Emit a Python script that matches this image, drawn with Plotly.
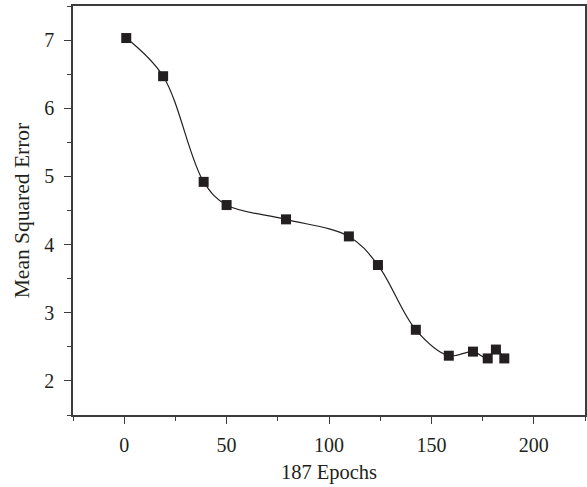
import plotly.graph_objects as go

epochs = [1, 19, 38.8, 50, 79, 109.7, 123.9, 142.4, 158.5, 170.3, 177.5, 181.5, 185.6]
mse = [7.03, 6.47, 4.92, 4.58, 4.37, 4.12, 3.70, 2.75, 2.37, 2.43, 2.33, 2.46, 2.33]

x_ticks = [0, 50, 100, 150, 200]
y_ticks = [2, 3, 4, 5, 6, 7]

font_family = "Liberation Serif, Times New Roman, serif"
axis_color = "#3c3c3c"
mark_color = "#231f20"

fig = go.Figure()
fig.add_trace(go.Scatter(
    x=epochs, y=mse, mode="lines",
    line=dict(color=mark_color, width=1.2, shape="spline", smoothing=1.0),
    showlegend=False, hoverinfo="skip",
))
fig.add_trace(go.Scatter(
    x=epochs, y=mse, mode="markers",
    marker=dict(symbol="square", size=10, color=mark_color, line=dict(width=0)),
    showlegend=False,
))

fig.update_layout(
    width=587, height=487,
    margin=dict(l=73, r=2, t=6, b=72, autoexpand=False),
    paper_bgcolor="white", plot_bgcolor="white",
    font=dict(family=font_family, size=20, color="#231f20"),
)
fig.update_xaxes(
    range=[-25, 225], tickvals=x_ticks, ticktext=[str(v) for v in x_ticks],
    showgrid=False, zeroline=False, automargin=False,
    showline=True, linecolor=axis_color, linewidth=1.5, mirror=True,
    ticks="outside", ticklen=7, tickwidth=1.3, tickcolor=axis_color,
    ticklabelstandoff=4,
    minor=dict(dtick=25, tick0=0, ticks="outside", ticklen=4, tickwidth=1.3, tickcolor=axis_color, showgrid=False),
    title=dict(text="187 Epochs", font=dict(size=20.5), standoff=10),
    tickfont=dict(size=20),
)
fig.update_yaxes(
    range=[1.5, 7.5], tickvals=y_ticks, ticktext=[str(v) for v in y_ticks],
    showgrid=False, zeroline=False, automargin=False,
    showline=True, linecolor=axis_color, linewidth=1.5, mirror=True,
    ticks="outside", ticklen=7, tickwidth=1.3, tickcolor=axis_color,
    ticklabelstandoff=6,
    minor=dict(dtick=0.5, tick0=0, ticks="outside", ticklen=4, tickwidth=1.3, tickcolor=axis_color, showgrid=False),
    title=dict(text="Mean Squared Error", font=dict(size=21.5), standoff=9),
    tickfont=dict(size=20),
)

fig.write_html(
    "out.html",
    config={"displayModeBar": False},
    post_script="document.body.style.margin='0';document.body.style.overflow='hidden';",
)
